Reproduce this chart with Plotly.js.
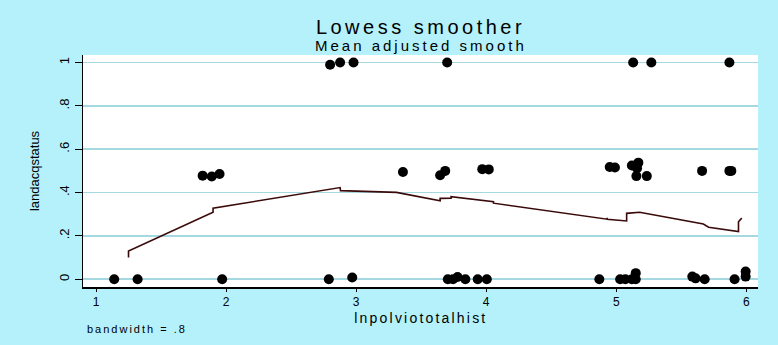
<!DOCTYPE html>
<html>
<head>
<meta charset="utf-8">
<script src="https://cdn.plot.ly/plotly-3.0.1.min.js"></script>
<style>
  html, body { margin: 0; padding: 0; background: #b5f1fb; }
  #chart { width: 778px; height: 345px; }
  .gtitle { letter-spacing: 3.5px; }
  g.annotation[data-index="0"] .annotation-text { letter-spacing: 3px; }
  g.annotation[data-index="1"] .annotation-text { letter-spacing: 2.2px; }
  g.annotation[data-index="2"] .annotation-text { letter-spacing: 2px; }
</style>
</head>
<body>
<div id="chart"></div>
<script>
// Observations: lnpolviototalhist (x) vs landacqstatus (y)
var obsX = [1.14, 1.32, 1.97, 2.79, 2.97, 3.705, 3.745, 3.78, 3.84, 3.935, 4.005,
            4.87, 5.03, 5.07, 5.12, 5.15, 5.15, 5.585, 5.61, 5.68, 5.91, 5.995, 5.995,
            1.82, 1.89, 1.95, 3.36, 3.646, 3.685, 3.97, 4.02, 4.95, 4.99,
            5.12, 5.17, 5.16, 5.155, 5.235, 5.66, 5.87, 5.885,
            2.80, 2.877, 2.98, 3.70, 5.13, 5.27, 5.87];
var obsY = [0, 0, 0, 0, 0.008, 0, 0, 0.01, 0, 0, 0,
            0, 0, 0, 0, 0, 0.028, 0.012, 0.004, 0, 0, 0.012, 0.035,
            0.478, 0.474, 0.486, 0.495, 0.48, 0.50, 0.508, 0.507, 0.518, 0.516,
            0.525, 0.538, 0.512, 0.476, 0.476, 0.50, 0.50, 0.50,
            0.99, 1.0, 1.0, 1.0, 1.0, 1.0, 1.0];

// Lowess smooth (mean adjusted)
var smoothX = [1.25, 1.25, 1.90, 1.90, 2.877, 2.88, 3.31, 3.646, 3.646, 3.73, 3.73,
               4.056, 4.056, 4.93, 4.93, 4.93, 5.08, 5.08, 5.18, 5.67, 5.71, 5.94, 5.94, 5.965];
var smoothY = [0.10, 0.13, 0.309, 0.328, 0.423, 0.409, 0.401, 0.362, 0.373, 0.374, 0.381,
               0.358, 0.351, 0.277, 0.284, 0.277, 0.269, 0.304, 0.309, 0.255, 0.240, 0.220, 0.265, 0.282];

var xTickVals = [1, 2, 3, 4, 5, 6];
var xTickText = ["1", "2", "3", "4", "5", "6"];
var yTickVals = [0, 0.2, 0.4, 0.6, 0.8, 1];
var yTickText = ["0", ".2", ".4", ".6", ".8", "1"];

var FONT = "Liberation Sans, Arial, Helvetica, sans-serif";

var traces = [
  {
    x: obsX, y: obsY, type: "scatter", mode: "markers",
    marker: { color: "#000000", size: 10 },
    hoverinfo: "x+y", showlegend: false
  },
  {
    x: smoothX, y: smoothY, type: "scatter", mode: "lines",
    line: { color: "#3a0a0a", width: 1.6 },
    hoverinfo: "x+y", showlegend: false
  }
];

var layout = {
  width: 778, height: 345,
  paper_bgcolor: "#b5f1fb",
  plot_bgcolor: "#ffffff",
  margin: { l: 83, r: 20, t: 55, b: 58 },
  font: { family: FONT, color: "#000000" },
  showlegend: false,
  title: {
    text: "Lowess smoother",
    font: { family: FONT, size: 20, color: "#000000" },
    xref: "paper", x: 0.5, xanchor: "center",
    y: 0.922, yanchor: "middle", yref: "container"
  },
  xaxis: {
    range: [0.9, 6.09],
    tickvals: xTickVals, ticktext: xTickText,
    ticks: "outside", ticklen: 3, tickcolor: "#000000", tickwidth: 1,
    tickfont: { family: FONT, size: 12, color: "#000000" },
    showline: true, linecolor: "#000000", linewidth: 1.5,
    showgrid: false, zeroline: false
  },
  yaxis: {
    range: [-0.036, 1.035],
    tickvals: yTickVals, ticktext: yTickText,
    tickangle: -90,
    ticks: "outside", ticklen: 7, tickcolor: "#000000", tickwidth: 1,
    tickfont: { family: FONT, size: 13, color: "#000000" },
    showline: true, linecolor: "#000000", linewidth: 1.5,
    showgrid: true, gridcolor: "#a6d8e2", gridwidth: 1.5,
    zeroline: false,
    title: { text: "landacqstatus", font: { family: FONT, size: 13, color: "#000000" }, standoff: 14 }
  },
  annotations: [
    {
      text: "Mean adjusted smooth", xref: "paper", yref: "paper",
      x: 0.5, y: 1.0388, xanchor: "center", yanchor: "middle",
      showarrow: false, font: { family: FONT, size: 15, color: "#000000" }
    },
    {
      text: "lnpolviototalhist", xref: "paper", yref: "paper",
      x: 0.5, y: -0.134, xanchor: "center", yanchor: "middle",
      showarrow: false, font: { family: FONT, size: 14, color: "#000000" }
    },
    {
      text: "bandwidth = .8", xref: "paper", yref: "paper",
      x: 0.024, y: -0.18, xanchor: "left", yanchor: "middle",
      showarrow: false, font: { family: FONT, size: 11, color: "#000000" }
    }
  ]
};

Plotly.newPlot("chart", traces, layout, { displayModeBar: false, staticPlot: true });
</script>
</body>
</html>
